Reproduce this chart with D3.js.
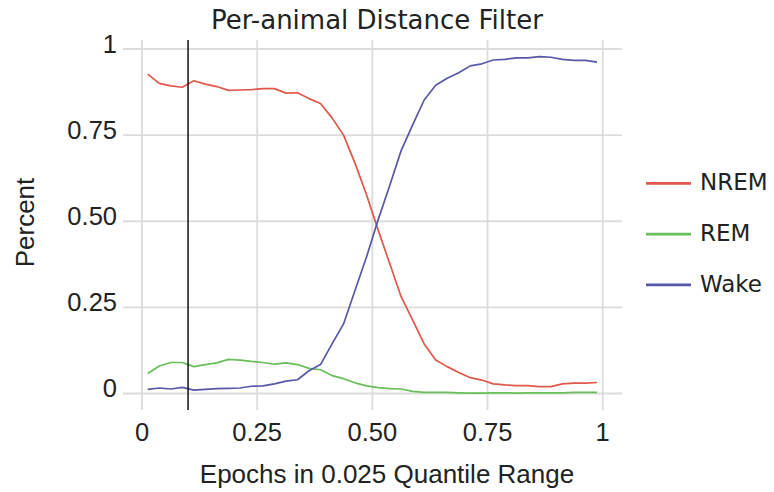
<!DOCTYPE html>
<html>
<head>
<meta charset="utf-8">
<script src="https://cdn.jsdelivr.net/npm/d3@7"></script>
<style>
  body { margin: 0; background: #fff; }
  svg text { fill: #222; }
  .arial { font-family: "Liberation Sans", Arial, Helvetica, sans-serif; }
  .dejavu { font-family: "DejaVu Sans", Verdana, sans-serif; }
</style>
</head>
<body>
<div id="chart-area"><svg></svg></div>
<script>
const quantiles = [
  0.0125, 0.0375, 0.0625, 0.0875, 0.1125, 0.1375, 0.1625, 0.1875, 0.2125, 0.2375,
  0.2625, 0.2875, 0.3125, 0.3375, 0.3625, 0.3875, 0.4125, 0.4375, 0.4625, 0.4875,
  0.5125, 0.5375, 0.5625, 0.5875, 0.6125, 0.6375, 0.6625, 0.6875, 0.7125, 0.7375,
  0.7625, 0.7875, 0.8125, 0.8375, 0.8625, 0.8875, 0.9125, 0.9375, 0.9625, 0.9875
];
const nrem = [
  0.927, 0.900, 0.893, 0.889, 0.908, 0.898, 0.891, 0.880, 0.881, 0.882,
  0.885, 0.885, 0.872, 0.873, 0.856, 0.842, 0.800, 0.750, 0.668, 0.576,
  0.475, 0.378, 0.281, 0.213, 0.144, 0.097, 0.078, 0.061, 0.046, 0.039,
  0.028, 0.025, 0.023, 0.023, 0.020, 0.020, 0.028, 0.030, 0.030, 0.032
];
const rem = [
  0.058, 0.080, 0.090, 0.090, 0.078, 0.084, 0.089, 0.099, 0.097, 0.093,
  0.090, 0.085, 0.089, 0.084, 0.073, 0.069, 0.052, 0.043, 0.031, 0.022,
  0.017, 0.014, 0.013, 0.006, 0.003, 0.003, 0.003, 0.002, 0.001, 0.001,
  0.002, 0.002, 0.001, 0.002, 0.002, 0.002, 0.002, 0.003, 0.003, 0.003
];
const wake = [
  0.012, 0.016, 0.013, 0.018, 0.010, 0.012, 0.014, 0.015, 0.016, 0.021,
  0.022, 0.028, 0.036, 0.040, 0.066, 0.084, 0.144, 0.202, 0.300, 0.397,
  0.504, 0.603, 0.705, 0.780, 0.852, 0.895, 0.915, 0.931, 0.951, 0.957,
  0.968, 0.970, 0.974, 0.974, 0.978, 0.976, 0.970, 0.967, 0.967, 0.962
];
const seriesNames = ["NREM", "REM", "Wake"];
const seriesColors = ["#e0574b", "#68be59", "#5858a8"];
const tickValues = [0, 0.25, 0.5, 0.75, 1];
const tickLabels = ["0", "0.25", "0.50", "0.75", "1"];
const cutoff = 0.1;

const chartSize = { width: 774, height: 492 };
const plot = { left: 123, right: 622, top: 40, bottom: 410 };

const svg = d3.select("#chart-area svg")
  .attr("width", chartSize.width)
  .attr("height", chartSize.height);

const x = d3.scaleLinear().domain([0, 1]).range([142, 602.7]);
const y = d3.scaleLinear().domain([0, 1]).range([393.5, 49]);

// grid
const grid = svg.append("g").attr("class", "grid");
grid.selectAll("line.h")
  .data(tickValues)
  .enter()
  .append("line")
  .attr("x1", plot.left)
  .attr("x2", plot.right)
  .attr("y1", d => y(d))
  .attr("y2", d => y(d))
  .attr("stroke", "#dcdcdc")
  .attr("stroke-width", 1.8);
grid.selectAll("line.v")
  .data(tickValues)
  .enter()
  .append("line")
  .attr("y1", plot.top)
  .attr("y2", plot.bottom)
  .attr("x1", d => x(d))
  .attr("x2", d => x(d))
  .attr("stroke", "#dcdcdc")
  .attr("stroke-width", 1.8);

// tick labels
svg.selectAll("text.ytick")
  .data(tickValues)
  .enter()
  .append("text")
  .attr("class", "ytick arial")
  .attr("x", 117)
  .attr("y", d => y(d) + 3.5)
  .attr("text-anchor", "end")
  .attr("font-size", 25.5)
  .text((d, i) => tickLabels[i]);
svg.selectAll("text.xtick")
  .data(tickValues)
  .enter()
  .append("text")
  .attr("class", "xtick arial")
  .attr("x", d => x(d))
  .attr("y", 441)
  .attr("text-anchor", "middle")
  .attr("font-size", 25.5)
  .text((d, i) => tickLabels[i]);

// axis labels and title
svg.append("text")
  .attr("class", "arial")
  .attr("x", 387)
  .attr("y", 483)
  .attr("text-anchor", "middle")
  .attr("font-size", 26)
  .text("Epochs in 0.025 Quantile Range");
svg.append("text")
  .attr("class", "arial")
  .attr("transform", "translate(34,222.5) rotate(-90)")
  .attr("text-anchor", "middle")
  .attr("font-size", 26)
  .text("Percent");
svg.append("text")
  .attr("class", "dejavu")
  .attr("x", 377)
  .attr("y", 28.5)
  .attr("text-anchor", "middle")
  .attr("font-size", 26)
  .text("Per-animal Distance Filter");

// lines
const line = d3.line()
  .x((d, i) => x(quantiles[i]))
  .y(d => y(d));
[nrem, rem, wake].forEach((values, k) => {
  svg.append("path")
    .attr("d", line(values))
    .attr("fill", "none")
    .attr("stroke", seriesColors[k])
    .attr("stroke-width", 1.7)
    .attr("stroke-linejoin", "round");
});

// cutoff marker
svg.append("line")
  .attr("x1", x(cutoff))
  .attr("x2", x(cutoff))
  .attr("y1", plot.top)
  .attr("y2", plot.bottom)
  .attr("stroke", "#111")
  .attr("stroke-width", 1.5);

// legend
const legend = svg.selectAll("g.legend")
  .data(seriesNames)
  .enter()
  .append("g")
  .attr("class", "legend")
  .attr("transform", (d, i) => `translate(646,${183.3 + i * 50.8})`);
legend.append("line")
  .attr("x1", 0)
  .attr("x2", 45)
  .attr("stroke", (d, i) => seriesColors[i])
  .attr("stroke-width", 2.8);
legend.append("text")
  .attr("class", "dejavu")
  .attr("x", 54)
  .attr("y", 7)
  .attr("font-size", 23)
  .text(d => d);
</script>
</body>
</html>
